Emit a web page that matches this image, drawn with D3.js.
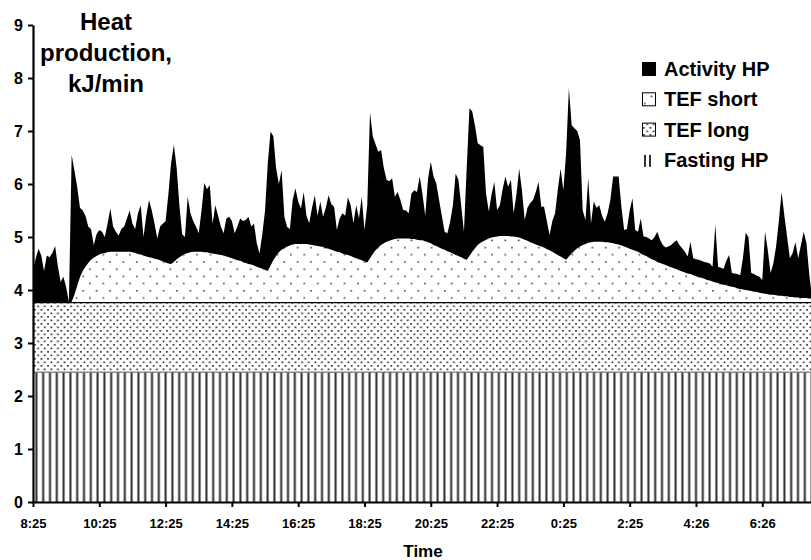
<!DOCTYPE html>
<html>
<head>
<meta charset="utf-8">
<script src="https://cdn.jsdelivr.net/npm/d3@7"></script>
<style>
  body { margin: 0; background: #fff; }
  svg { display: block; font-family: "Liberation Sans", Arial, sans-serif; font-weight: bold; }
</style>
</head>
<body>
<svg id="chart" width="811" height="560"></svg>
<script>
// x axis labels, one every 2 hours (120 min) from 8:25
const tickLabels = ["8:25", "10:25", "12:25", "14:25", "16:25", "18:25", "20:25", "22:25", "0:25", "2:25", "4:26", "6:26"];
const stepMin = 5;        // samples every 5 min
const fastingHP = 2.45;   // flat all day, kJ/min
const tefLongHP = 1.31;   // flat all day, kJ/min

// TEF short, kJ/min, one value per 5 min
const tefShortHP = [
  0,0,0,0,0,0,0,0,0,0,
  0,0,0,0,0.02,0.15,0.32,0.48,0.60,0.68,
  0.75,0.81,0.85,0.88,0.91,0.93,0.94,0.95,0.96,0.96,
  0.96,0.96,0.96,0.96,0.96,0.96,0.95,0.94,0.92,0.91,
  0.89,0.87,0.86,0.85,0.83,0.82,0.80,0.78,0.76,0.74,
  0.73,0.77,0.82,0.86,0.89,0.92,0.94,0.95,0.96,0.96,
  0.96,0.96,0.95,0.95,0.94,0.93,0.92,0.91,0.90,0.89,
  0.87,0.86,0.84,0.82,0.80,0.79,0.77,0.75,0.73,0.72,
  0.70,0.68,0.66,0.64,0.62,0.60,0.70,0.80,0.88,0.95,
  1.00,1.03,1.06,1.08,1.10,1.11,1.11,1.11,1.11,1.11,
  1.10,1.09,1.08,1.07,1.06,1.05,1.03,1.02,1.00,0.98,
  0.96,0.95,0.93,0.91,0.90,0.88,0.86,0.84,0.82,0.80,
  0.78,0.76,0.84,0.92,0.99,1.04,1.09,1.12,1.15,1.17,
  1.19,1.20,1.21,1.21,1.21,1.21,1.21,1.20,1.20,1.19,
  1.18,1.18,1.16,1.14,1.12,1.09,1.07,1.04,1.02,1.00,
  0.97,0.95,0.93,0.90,0.88,0.86,0.83,0.81,0.88,0.96,
  1.03,1.09,1.13,1.16,1.19,1.21,1.23,1.24,1.25,1.26,
  1.26,1.26,1.26,1.25,1.25,1.24,1.23,1.21,1.19,1.17,
  1.14,1.12,1.10,1.08,1.06,1.04,1.01,0.99,0.96,0.93,
  0.90,0.87,0.84,0.81,0.87,0.93,0.98,1.03,1.06,1.09,
  1.11,1.13,1.14,1.15,1.15,1.15,1.15,1.14,1.14,1.13,
  1.12,1.11,1.10,1.08,1.06,1.04,1.02,1.00,0.98,0.96,
  0.93,0.90,0.88,0.85,0.82,0.80,0.77,0.75,0.73,0.71,
  0.69,0.67,0.65,0.63,0.61,0.59,0.57,0.55,0.54,0.52,
  0.50,0.48,0.47,0.45,0.43,0.42,0.40,0.38,0.37,0.35,
  0.34,0.33,0.31,0.30,0.29,0.27,0.26,0.25,0.24,0.23,
  0.22,0.21,0.20,0.19,0.18,0.17,0.16,0.15,0.15,0.14,
  0.13,0.13,0.12,0.12,0.11,0.11,0.10,0.10,0.09,0.09,
  0.09,0.08,0.08
];

// total heat production (top of the stack), kJ/min, one value per 5 min
const totalHP = [
  4.40,4.60,4.78,4.65,4.36,4.65,4.62,4.70,4.83,4.45,
  4.15,4.25,4.05,3.78,6.55,6.25,5.95,5.55,5.50,5.40,
  5.20,5.15,4.85,5.05,5.13,5.10,5.00,5.25,5.54,5.20,
  5.10,5.03,5.15,5.20,5.35,5.50,5.25,5.15,5.45,5.60,
  5.00,5.40,5.70,5.50,5.25,4.97,5.20,5.25,5.30,5.80,
  6.40,6.74,6.30,5.60,5.05,5.00,5.76,5.45,5.30,5.20,
  5.07,5.50,6.02,5.90,5.98,5.25,5.60,5.40,5.20,5.07,
  5.35,5.38,5.30,5.07,5.20,5.35,5.30,5.32,5.38,5.20,
  5.25,4.88,4.69,5.05,5.50,6.40,6.99,6.90,6.30,6.00,
  6.26,5.38,5.19,5.15,5.70,5.92,5.67,5.54,5.85,5.40,
  5.26,5.55,5.79,5.40,5.67,5.38,5.55,5.79,5.62,5.57,
  5.13,5.35,5.45,5.40,5.75,5.60,5.26,5.60,5.35,5.76,
  5.13,5.60,7.35,6.90,6.75,6.61,6.64,6.30,6.08,6.05,
  6.11,5.76,5.85,5.70,5.51,5.50,5.45,5.82,5.88,5.85,
  6.14,5.80,5.40,6.10,6.42,6.14,6.01,5.70,5.40,5.10,
  5.07,5.29,5.60,6.20,6.08,5.60,5.10,6.30,7.43,7.37,
  7.10,6.77,6.73,6.70,5.82,5.48,5.80,6.04,5.51,5.60,
  5.90,6.14,5.95,6.08,5.45,5.80,6.29,5.88,5.32,5.55,
  5.64,5.70,5.85,6.04,5.57,5.57,5.30,5.04,5.30,5.45,
  5.90,6.29,5.88,6.60,7.81,7.11,7.05,7.00,6.83,5.50,
  5.32,6.11,5.26,5.67,5.55,5.60,5.40,5.29,5.45,5.70,
  6.14,6.14,6.14,5.57,5.13,5.15,5.50,5.73,5.13,5.10,
  5.35,5.01,5.00,4.97,4.94,5.00,5.10,4.95,4.85,4.80,
  4.82,4.85,4.90,4.94,4.85,4.79,4.72,4.63,4.91,4.60,
  4.58,4.57,4.55,4.53,4.52,4.50,4.44,5.23,4.44,4.42,
  4.40,4.55,4.66,4.32,4.31,4.30,4.28,4.60,5.08,5.00,
  4.32,4.30,4.27,4.25,4.19,5.10,4.75,4.32,4.50,4.82,
  5.30,5.85,5.40,5.00,4.60,4.70,4.90,4.60,4.85,5.10,
  4.88,4.30,3.87
];

const legendNames = ["Activity HP", "TEF short", "TEF long", "Fasting HP"];

// activity HP is what is left of the total over the other three
const rows = totalHP.map((tot, i) => ({
  min: i * stepMin,
  fasting: fastingHP,
  tefLong: tefLongHP,
  tefShort: tefShortHP[i],
  activity: Math.max(0, tot - fastingHP - tefLongHP - tefShortHP[i])
}));

const svg = d3.select("#chart");

const x = d3.scaleLinear().domain([0, 1410]).range([33, 812]);
const y = d3.scaleLinear().domain([0, 9]).range([502, 25]);

// ---------- fill patterns ----------
const defs = svg.append("defs");

const vl = defs.append("pattern").attr("id", "vlines")
  .attr("patternUnits", "userSpaceOnUse").attr("width", 6.8).attr("height", 10).attr("x", 33);
vl.append("rect").attr("width", 6.8).attr("height", 10).attr("fill", "#fff");
vl.append("rect").attr("x", 2.4).attr("width", 2).attr("height", 10).attr("fill", "#2a2a2a");

const dd = defs.append("pattern").attr("id", "denseDots")
  .attr("patternUnits", "userSpaceOnUse").attr("width", 6.6).attr("height", 7);
dd.append("rect").attr("width", 6.6).attr("height", 7).attr("fill", "#fff");
dd.append("rect").attr("x", 1).attr("y", 1).attr("width", 1.7).attr("height", 1.7).attr("fill", "#333");
dd.append("rect").attr("x", 4.3).attr("y", 4.5).attr("width", 1.7).attr("height", 1.7).attr("fill", "#333");

const sd = defs.append("pattern").attr("id", "sparseDots")
  .attr("patternUnits", "userSpaceOnUse").attr("width", 13.4).attr("height", 14.4);
sd.append("rect").attr("width", 13.4).attr("height", 14.4).attr("fill", "#fff");
sd.append("rect").attr("x", 2).attr("y", 2).attr("width", 1.6).attr("height", 1.6).attr("fill", "#444");
sd.append("rect").attr("x", 8.7).attr("y", 9.2).attr("width", 1.6).attr("height", 1.6).attr("fill", "#444");

// ---------- stacked areas ----------
const keys = ["fasting", "tefLong", "tefShort", "activity"];
const fills = { fasting: "url(#vlines)", tefLong: "url(#denseDots)", tefShort: "url(#sparseDots)", activity: "#000" };
const series = d3.stack().keys(keys)(rows);

const area = d3.area()
  .x(d => x(d.data.min))
  .y0(d => y(d[0]))
  .y1(d => y(d[1]));

svg.append("g").selectAll("path")
  .data(series)
  .enter()
  .append("path")
  .attr("d", area)
  .attr("fill", d => fills[d.key]);

// borders on top of the two flat layers
const topLine = d3.line().x(d => x(d.data.min)).y(d => y(d[1]));
svg.append("path").attr("d", topLine(series[0])).attr("fill", "none").attr("stroke", "#555").attr("stroke-width", 1);
svg.append("path").attr("d", topLine(series[1])).attr("fill", "none").attr("stroke", "#000").attr("stroke-width", 1.2);

// ---------- axes ----------
const yAxis = d3.axisLeft(y).ticks(9).tickSize(5).tickSizeOuter(0).tickPadding(5);
const gy = svg.append("g").attr("transform", "translate(33,0)").call(yAxis);
gy.selectAll("text").style("font-size", "16px").style("font-weight", "bold").attr("fill", "#000")
  .style("font-family", "'Liberation Sans', Arial, sans-serif");

const xAxis = d3.axisBottom(x)
  .tickValues(d3.range(0, 1321, 120))
  .tickFormat((d, i) => tickLabels[i])
  .tickSize(5).tickSizeOuter(0).tickPadding(12);
const gx = svg.append("g").attr("transform", "translate(0,502)").call(xAxis);
gx.selectAll("text").style("font-size", "13px").style("font-weight", "bold").attr("fill", "#000")
  .style("font-family", "'Liberation Sans', Arial, sans-serif");

[gx, gy].forEach(g => {
  g.select(".domain").attr("stroke", "#000").attr("stroke-width", 2.2);
  g.selectAll(".tick line").attr("stroke", "#000").attr("stroke-width", 2);
});

svg.append("text").attr("x", 423).attr("y", 557).attr("text-anchor", "middle")
  .style("font-size", "17px").text("Time");

// axis title top left
const titleLines = ["Heat", "production,", "kJ/min"];
svg.append("g").selectAll("text")
  .data(titleLines)
  .enter()
  .append("text")
  .attr("x", 106)
  .attr("y", (d, i) => 30 + i * 31)
  .attr("text-anchor", "middle")
  .style("font-size", "24px")
  .text(d => d);

// ---------- legend ----------
const legend = svg.append("g").attr("transform", "translate(642,0)");
const legendKeys = ["activity", "tefShort", "tefLong", "fasting"];
legendNames.forEach((name, i) => {
  const base = 76 + i * 30.3;
  const key = legendKeys[i];
  const g = legend.append("g");
  if (key === "activity") {
    g.append("rect").attr("x", 0).attr("y", base - 14).attr("width", 14).attr("height", 14).attr("fill", "#000");
  } else if (key === "fasting") {
    g.append("rect").attr("x", 2).attr("y", base - 12).attr("width", 2).attr("height", 12).attr("fill", "#333");
    g.append("rect").attr("x", 7).attr("y", base - 12).attr("width", 2).attr("height", 12).attr("fill", "#333");
  } else {
    g.append("rect").attr("x", 0.5).attr("y", base - 13.5).attr("width", 13).attr("height", 13)
      .attr("fill", fills[key]).attr("stroke", "#000").attr("stroke-width", 1);
  }
  g.append("text").attr("x", 22).attr("y", base).style("font-size", "20px").text(name);
});
</script>
</body>
</html>
